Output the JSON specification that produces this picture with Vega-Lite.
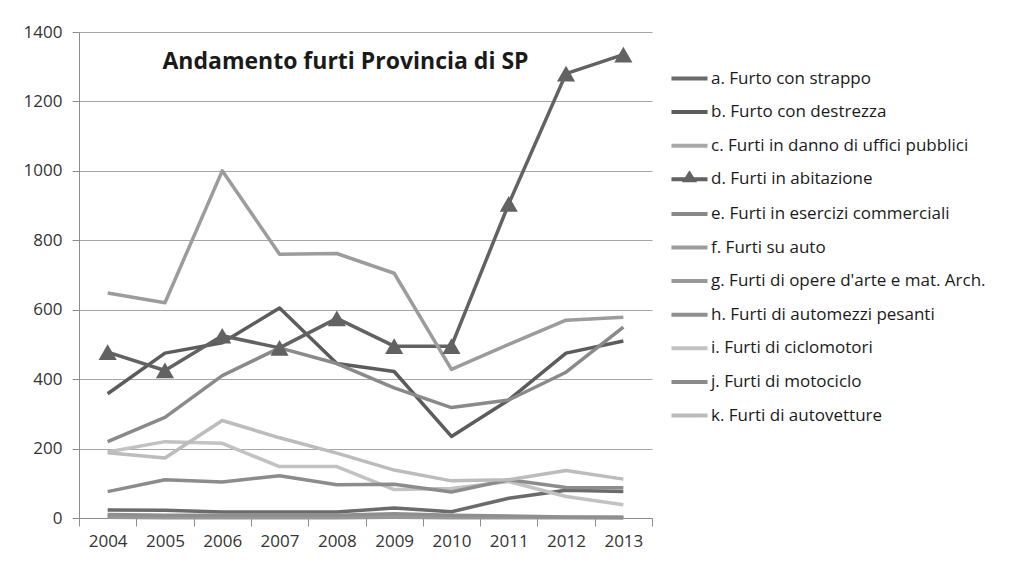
{
  "$schema": "https://vega.github.io/schema/vega-lite/v6.json",
  "autosize": "none",
  "width": 573,
  "height": 486,
  "padding": {"left": 79, "top": 32, "right": 367, "bottom": 48},
  "background": "white",
  "title": {
    "text": "Andamento furti Provincia di SP",
    "font": "Open Sans",
    "fontSize": 23,
    "fontWeight": "bold",
    "color": "#1a1a1a",
    "anchor": "middle",
    "frame": "group",
    "offset": -51,
    "dx": -20
  },
  "data": {
    "values": [
      {"anno": "2004", "serie": "a. Furto con strappo", "valore": 23},
      {"anno": "2005", "serie": "a. Furto con strappo", "valore": 22},
      {"anno": "2006", "serie": "a. Furto con strappo", "valore": 17},
      {"anno": "2007", "serie": "a. Furto con strappo", "valore": 17},
      {"anno": "2008", "serie": "a. Furto con strappo", "valore": 17},
      {"anno": "2009", "serie": "a. Furto con strappo", "valore": 29},
      {"anno": "2010", "serie": "a. Furto con strappo", "valore": 18},
      {"anno": "2011", "serie": "a. Furto con strappo", "valore": 57},
      {"anno": "2012", "serie": "a. Furto con strappo", "valore": 80},
      {"anno": "2013", "serie": "a. Furto con strappo", "valore": 76},

      {"anno": "2004", "serie": "b. Furto con destrezza", "valore": 358},
      {"anno": "2005", "serie": "b. Furto con destrezza", "valore": 475},
      {"anno": "2006", "serie": "b. Furto con destrezza", "valore": 505},
      {"anno": "2007", "serie": "b. Furto con destrezza", "valore": 605},
      {"anno": "2008", "serie": "b. Furto con destrezza", "valore": 445},
      {"anno": "2009", "serie": "b. Furto con destrezza", "valore": 422},
      {"anno": "2010", "serie": "b. Furto con destrezza", "valore": 235},
      {"anno": "2011", "serie": "b. Furto con destrezza", "valore": 340},
      {"anno": "2012", "serie": "b. Furto con destrezza", "valore": 475},
      {"anno": "2013", "serie": "b. Furto con destrezza", "valore": 510},

      {"anno": "2004", "serie": "c. Furti in danno di uffici pubblici", "valore": 5},
      {"anno": "2005", "serie": "c. Furti in danno di uffici pubblici", "valore": 5},
      {"anno": "2006", "serie": "c. Furti in danno di uffici pubblici", "valore": 3},
      {"anno": "2007", "serie": "c. Furti in danno di uffici pubblici", "valore": 3},
      {"anno": "2008", "serie": "c. Furti in danno di uffici pubblici", "valore": 3},
      {"anno": "2009", "serie": "c. Furti in danno di uffici pubblici", "valore": 8},
      {"anno": "2010", "serie": "c. Furti in danno di uffici pubblici", "valore": 5},
      {"anno": "2011", "serie": "c. Furti in danno di uffici pubblici", "valore": 3},
      {"anno": "2012", "serie": "c. Furti in danno di uffici pubblici", "valore": 2},
      {"anno": "2013", "serie": "c. Furti in danno di uffici pubblici", "valore": 2},

      {"anno": "2004", "serie": "d. Furti in abitazione", "valore": 478},
      {"anno": "2005", "serie": "d. Furti in abitazione", "valore": 425},
      {"anno": "2006", "serie": "d. Furti in abitazione", "valore": 525},
      {"anno": "2007", "serie": "d. Furti in abitazione", "valore": 490},
      {"anno": "2008", "serie": "d. Furti in abitazione", "valore": 575},
      {"anno": "2009", "serie": "d. Furti in abitazione", "valore": 495},
      {"anno": "2010", "serie": "d. Furti in abitazione", "valore": 495},
      {"anno": "2011", "serie": "d. Furti in abitazione", "valore": 905},
      {"anno": "2012", "serie": "d. Furti in abitazione", "valore": 1280},
      {"anno": "2013", "serie": "d. Furti in abitazione", "valore": 1335},

      {"anno": "2004", "serie": "e. Furti in esercizi commerciali", "valore": 220},
      {"anno": "2005", "serie": "e. Furti in esercizi commerciali", "valore": 290},
      {"anno": "2006", "serie": "e. Furti in esercizi commerciali", "valore": 410},
      {"anno": "2007", "serie": "e. Furti in esercizi commerciali", "valore": 490},
      {"anno": "2008", "serie": "e. Furti in esercizi commerciali", "valore": 445},
      {"anno": "2009", "serie": "e. Furti in esercizi commerciali", "valore": 375},
      {"anno": "2010", "serie": "e. Furti in esercizi commerciali", "valore": 318},
      {"anno": "2011", "serie": "e. Furti in esercizi commerciali", "valore": 340},
      {"anno": "2012", "serie": "e. Furti in esercizi commerciali", "valore": 420},
      {"anno": "2013", "serie": "e. Furti in esercizi commerciali", "valore": 550},

      {"anno": "2004", "serie": "f. Furti su auto", "valore": 648},
      {"anno": "2005", "serie": "f. Furti su auto", "valore": 620},
      {"anno": "2006", "serie": "f. Furti su auto", "valore": 1000},
      {"anno": "2007", "serie": "f. Furti su auto", "valore": 760},
      {"anno": "2008", "serie": "f. Furti su auto", "valore": 762},
      {"anno": "2009", "serie": "f. Furti su auto", "valore": 705},
      {"anno": "2010", "serie": "f. Furti su auto", "valore": 428},
      {"anno": "2011", "serie": "f. Furti su auto", "valore": 500},
      {"anno": "2012", "serie": "f. Furti su auto", "valore": 570},
      {"anno": "2013", "serie": "f. Furti su auto", "valore": 578},

      {"anno": "2004", "serie": "g. Furti di opere d'arte e mat. Arch.", "valore": 2},
      {"anno": "2005", "serie": "g. Furti di opere d'arte e mat. Arch.", "valore": 1},
      {"anno": "2006", "serie": "g. Furti di opere d'arte e mat. Arch.", "valore": 1},
      {"anno": "2007", "serie": "g. Furti di opere d'arte e mat. Arch.", "valore": 1},
      {"anno": "2008", "serie": "g. Furti di opere d'arte e mat. Arch.", "valore": 1},
      {"anno": "2009", "serie": "g. Furti di opere d'arte e mat. Arch.", "valore": 2},
      {"anno": "2010", "serie": "g. Furti di opere d'arte e mat. Arch.", "valore": 1},
      {"anno": "2011", "serie": "g. Furti di opere d'arte e mat. Arch.", "valore": 1},
      {"anno": "2012", "serie": "g. Furti di opere d'arte e mat. Arch.", "valore": 1},
      {"anno": "2013", "serie": "g. Furti di opere d'arte e mat. Arch.", "valore": 0},

      {"anno": "2004", "serie": "h. Furti di automezzi pesanti", "valore": 10},
      {"anno": "2005", "serie": "h. Furti di automezzi pesanti", "valore": 8},
      {"anno": "2006", "serie": "h. Furti di automezzi pesanti", "valore": 8},
      {"anno": "2007", "serie": "h. Furti di automezzi pesanti", "valore": 8},
      {"anno": "2008", "serie": "h. Furti di automezzi pesanti", "valore": 8},
      {"anno": "2009", "serie": "h. Furti di automezzi pesanti", "valore": 12},
      {"anno": "2010", "serie": "h. Furti di automezzi pesanti", "valore": 8},
      {"anno": "2011", "serie": "h. Furti di automezzi pesanti", "valore": 6},
      {"anno": "2012", "serie": "h. Furti di automezzi pesanti", "valore": 3},
      {"anno": "2013", "serie": "h. Furti di automezzi pesanti", "valore": 2},

      {"anno": "2004", "serie": "i. Furti di ciclomotori", "valore": 190},
      {"anno": "2005", "serie": "i. Furti di ciclomotori", "valore": 220},
      {"anno": "2006", "serie": "i. Furti di ciclomotori", "valore": 215},
      {"anno": "2007", "serie": "i. Furti di ciclomotori", "valore": 148},
      {"anno": "2008", "serie": "i. Furti di ciclomotori", "valore": 148},
      {"anno": "2009", "serie": "i. Furti di ciclomotori", "valore": 82},
      {"anno": "2010", "serie": "i. Furti di ciclomotori", "valore": 85},
      {"anno": "2011", "serie": "i. Furti di ciclomotori", "valore": 105},
      {"anno": "2012", "serie": "i. Furti di ciclomotori", "valore": 62},
      {"anno": "2013", "serie": "i. Furti di ciclomotori", "valore": 38},

      {"anno": "2004", "serie": "j. Furti di motociclo", "valore": 76},
      {"anno": "2005", "serie": "j. Furti di motociclo", "valore": 110},
      {"anno": "2006", "serie": "j. Furti di motociclo", "valore": 104},
      {"anno": "2007", "serie": "j. Furti di motociclo", "valore": 122},
      {"anno": "2008", "serie": "j. Furti di motociclo", "valore": 96},
      {"anno": "2009", "serie": "j. Furti di motociclo", "valore": 97},
      {"anno": "2010", "serie": "j. Furti di motociclo", "valore": 75},
      {"anno": "2011", "serie": "j. Furti di motociclo", "valore": 110},
      {"anno": "2012", "serie": "j. Furti di motociclo", "valore": 88},
      {"anno": "2013", "serie": "j. Furti di motociclo", "valore": 87},

      {"anno": "2004", "serie": "k. Furti di autovetture", "valore": 188},
      {"anno": "2005", "serie": "k. Furti di autovetture", "valore": 173},
      {"anno": "2006", "serie": "k. Furti di autovetture", "valore": 281},
      {"anno": "2007", "serie": "k. Furti di autovetture", "valore": 231},
      {"anno": "2008", "serie": "k. Furti di autovetture", "valore": 187},
      {"anno": "2009", "serie": "k. Furti di autovetture", "valore": 138},
      {"anno": "2010", "serie": "k. Furti di autovetture", "valore": 107},
      {"anno": "2011", "serie": "k. Furti di autovetture", "valore": 110},
      {"anno": "2012", "serie": "k. Furti di autovetture", "valore": 137},
      {"anno": "2013", "serie": "k. Furti di autovetture", "valore": 112}
    ]
  },
  "encoding": {
    "x": {
      "field": "anno",
      "type": "ordinal",
      "bandPosition": 0.5,
      "scale": {"type": "band", "paddingInner": 0, "paddingOuter": 0},
      "axis": {
        "title": null,
        "labelAngle": 0,
        "labelFont": "Open Sans",
        "labelFontSize": 17,
        "labelColor": "#333333",
        "labelPadding": 7,
        "tickBand": "extent",
        "tickSize": 8,
        "tickColor": "#8c8c8c",
        "domainColor": "#8c8c8c",
        "grid": false
      }
    },
    "y": {
      "field": "valore",
      "type": "quantitative",
      "scale": {"domain": [0, 1400], "nice": false},
      "axis": {
        "title": null,
        "format": "d",
        "values": [0, 200, 400, 600, 800, 1000, 1200, 1400],
        "labelFont": "Open Sans",
        "labelFontSize": 17,
        "labelColor": "#333333",
        "labelPadding": 10,
        "tickSize": 7,
        "tickColor": "#8c8c8c",
        "domainColor": "#8c8c8c",
        "gridColor": "#a6a6a6",
        "gridWidth": 1
      }
    }
  },
  "layer": [
    {
      "mark": {"type": "line", "strokeWidth": 3.5, "strokeJoin": "round"},
      "encoding": {
        "color": {
          "field": "serie",
          "type": "nominal",
          "scale": {
            "domain": [
              "a. Furto con strappo",
              "b. Furto con destrezza",
              "c. Furti in danno di uffici pubblici",
              "d. Furti in abitazione",
              "e. Furti in esercizi commerciali",
              "f. Furti su auto",
              "g. Furti di opere d'arte e mat. Arch.",
              "h. Furti di automezzi pesanti",
              "i. Furti di ciclomotori",
              "j. Furti di motociclo",
              "k. Furti di autovetture"
            ],
            "range": ["#6b6b6b", "#5c5c5c", "#a9a9a9", "#626262", "#8a8a8a", "#9c9c9c", "#989898", "#8f8f8f", "#c2c2c2", "#8c8c8c", "#bcbcbc"]
          },
          "legend": {
            "title": null,
            "orient": "none",
            "legendX": 590,
            "legendY": 26,
            "symbolType": "stroke",
            "symbolSize": 1300,
            "symbolStrokeWidth": 4,
            "labelFont": "Open Sans",
            "labelFontSize": 17,
            "labelColor": "#1a1a1a",
            "labelLimit": 400,
            "labelOffset": 1,
            "rowPadding": 4.6,
            "symbolOffset": 0,
            "encode": {
              "symbols": {
                "update": {
                  "shape": {"signal": "datum.value === 'd. Furti in abitazione' ? 'M-1,0H1M-0.22,0.05L0,-0.3L0.22,0.05Z' : 'stroke'"},
                  "fill": {"signal": "datum.value === 'd. Furti in abitazione' ? '#626262' : 'transparent'"}
                }
              }
            }
          }
        }
      }
    },
    {
      "transform": [{"filter": "datum.serie === 'd. Furti in abitazione'"}],
      "mark": {"type": "point", "shape": "triangle-up", "filled": true, "size": 330, "color": "#626262", "opacity": 1}
    }
  ],
  "config": {
    "view": {"stroke": null}
  }
}
